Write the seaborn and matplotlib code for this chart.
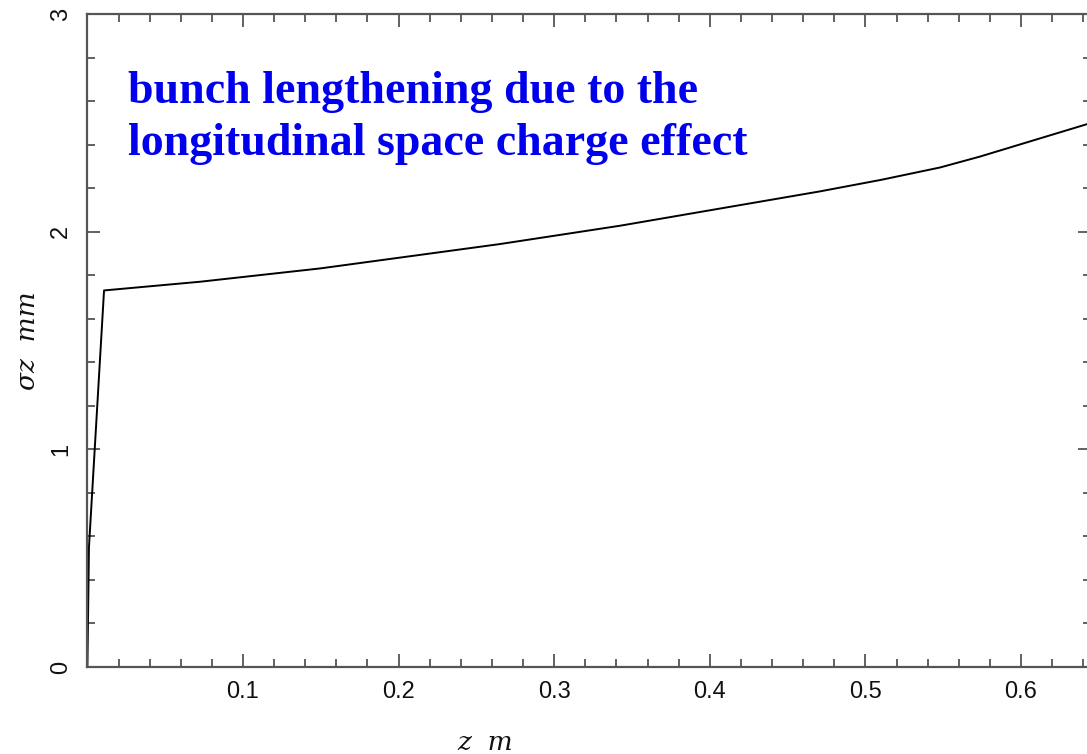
import matplotlib
matplotlib.use("Agg")
import matplotlib.pyplot as plt
import seaborn as sns
import pandas as pd
from matplotlib.ticker import MultipleLocator

# data
z_m = [0.0, 0.001, 0.0107, 0.0724, 0.1494, 0.265, 0.342, 0.4707, 0.51, 0.548, 0.5736, 0.6424, 0.645]
sigma_z_mm = [0.0, 0.55, 1.73, 1.770, 1.831, 1.943, 2.027, 2.185, 2.238, 2.295, 2.345, 2.494, 2.500]
x_ticks = [0.1, 0.2, 0.3, 0.4, 0.5, 0.6]
y_ticks = [0, 1, 2, 3]
annotation = "bunch lengthening due to the\nlongitudinal space charge effect"

sns.set_theme(style="white")
plt.rcParams['font.family'] = ['Liberation Sans', 'DejaVu Sans']

df = pd.DataFrame({"z": z_m, "sigma": sigma_z_mm})

fig = plt.figure(figsize=(10.87, 7.54), dpi=100)
ax = fig.add_axes([0.0804, 0.1154, 1.0037 - 0.0804, 0.9814 - 0.1154])

sns.lineplot(data=df, x="z", y="sigma", ax=ax, color="black", linewidth=1.4,
             sort=False, estimator=None)

ax.set_xlim(0, 0.645)
ax.set_ylim(0, 3)
ax.set_xticks(x_ticks)
ax.set_xticklabels([f"{v:g}" for v in x_ticks])
ax.set_yticks(y_ticks)
ax.set_yticklabels([f"{v:g}" for v in y_ticks])
ax.xaxis.set_minor_locator(MultipleLocator(0.02))
ax.yaxis.set_minor_locator(MultipleLocator(0.2))

spine_col = "#555555"
for s in ax.spines.values():
    s.set_visible(True)
    s.set_color(spine_col)
    s.set_linewidth(1.6)

ax.tick_params(which="both", direction="in", top=True, right=True, bottom=True, left=True,
               color=spine_col, width=1.3)
ax.tick_params(which="major", length=9.5)
ax.tick_params(which="minor", length=5.5)
ax.tick_params(axis="x", which="major", labelsize=17, pad=10, labelcolor="#111111")
ax.tick_params(axis="y", which="major", labelsize=17, pad=11, labelrotation=90,
               labelcolor="#111111")
for lbl in ax.get_yticklabels():
    lbl.set_verticalalignment("center")

ax.set_xlabel("z  m", fontsize=19, family="DejaVu Serif", style="italic", color="#111111")
ax.set_ylabel("σz  mm", fontsize=19, family="DejaVu Serif", style="italic", color="#111111")
ax.xaxis.set_label_coords(0.396, -0.127)
ax.xaxis.label.set_verticalalignment("baseline")
ax.yaxis.set_label_coords(-0.047, 0.5)

ax.text(0.0406, 0.784, annotation, transform=ax.transAxes, ha="left", va="baseline",
        fontsize=33, fontweight="bold", family="Liberation Serif", color="#0000ee",
        linespacing=1.33)

fig.savefig("out.png", dpi=100)
